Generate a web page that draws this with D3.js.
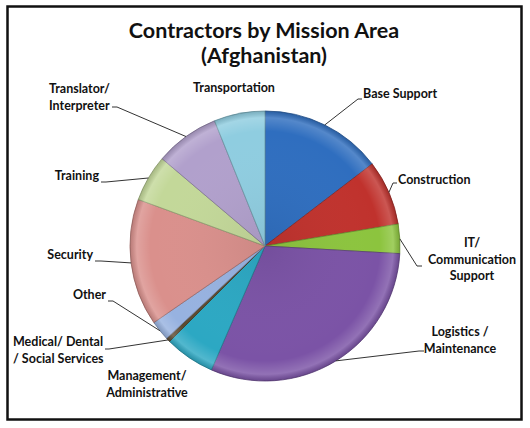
<!DOCTYPE html>
<html>
<head>
<meta charset="utf-8">
<script src="https://cdn.jsdelivr.net/npm/d3@7"></script>
<style>
  body { margin: 0; background: #fff; }
  svg text { font-family: Lato, "Open Sans", sans-serif; font-weight: bold; fill: #111; }
</style>
</head>
<body>
<svg id="chart" width="530" height="428"></svg>
<script>
// values (percent of contractors)
const categories = ["Base Support", "Construction", "IT/ Communication Support", "Logistics / Maintenance",
    "Management/ Administrative", "Medical/ Dental / Social Services", "Other", "Security",
    "Training", "Translator/ Interpreter", "Transportation"];
const shares = [14.6, 7.8, 3.5, 30.6, 6.0, 0.5, 2.4, 15.2, 5.6, 7.7, 6.1];
const colors = ["#2f6ebf", "#c0322d", "#8cc43e", "#7b53a6", "#2ca8c3", "#5c4a30", "#97b2e0",
    "#da908c", "#c3d899", "#b1a0cc", "#8fcde0"];

// label layout: lines, text position, anchor, elbow of leader (null = no leader)
const labelLines = [["Base Support"], ["Construction"], ["IT/", "Communication", "Support"],
    ["Logistics /", "Maintenance"], ["Management/", "Administrative"], ["Medical/ Dental", "/ Social Services"],
    ["Other"], ["Security"], ["Training"], ["Translator/", "Interpreter"], ["Transportation"]];
const labelPos = [
    { x: 363, y: 98, anchor: "start", elbow: [[358, 99], [362, 99]] },
    { x: 398, y: 184, anchor: "start", elbow: [[393, 183], [397, 183]] },
    { x: 472, y: 247, anchor: "middle", elbow: [[417, 266], [422, 266]] },
    { x: 460, y: 336, anchor: "middle", elbow: [[419, 351], [424, 351]] },
    { x: 147, y: 380, anchor: "middle", elbow: null },
    { x: 13, y: 346, anchor: "start", elbow: [[109, 349], [105, 349]] },
    { x: 106, y: 299, anchor: "end", elbow: [[113, 301], [108, 301]] },
    { x: 93, y: 259, anchor: "end", elbow: [[101, 261], [95, 261]] },
    { x: 99, y: 180, anchor: "end", elbow: [[106, 182], [101, 182]] },
    { x: 49, y: 93, anchor: "start", elbow: [[117, 107], [112, 107]] },
    { x: 234, y: 92, anchor: "middle", elbow: null }
];

const cx = 265, cy = 246, radius = 135;
const svg = d3.select("#chart");

svg.append("rect")
    .attr("x", 7.5).attr("y", 6.5)
    .attr("width", 514).attr("height", 413)
    .attr("fill", "#fff").attr("stroke", "#111").attr("stroke-width", 2.5);

svg.append("text").attr("x", 264).attr("y", 38)
    .attr("text-anchor", "middle").attr("font-size", 21.5)
    .text("Contractors by Mission Area");
svg.append("text").attr("x", 264).attr("y", 63)
    .attr("text-anchor", "middle").attr("font-size", 21.5)
    .text("(Afghanistan)");

const data = categories.map((c, i) => ({ name: c, value: shares[i], color: colors[i], lines: labelLines[i], pos: labelPos[i] }));

const pie = d3.pie().sort(null).value(d => d.value);
const arcs = pie(data);
const arc = d3.arc().innerRadius(0).outerRadius(radius);
const edge = d3.arc().innerRadius(radius).outerRadius(radius);

// soft bevel over the whole pie, like the office chart style
const defs = svg.append("defs");
const shade = defs.append("radialGradient").attr("id", "bevel")
    .attr("gradientUnits", "userSpaceOnUse")
    .attr("cx", 0).attr("cy", 0).attr("r", radius);
shade.append("stop").attr("offset", "0%").attr("stop-color", "#000").attr("stop-opacity", 0.06);
shade.append("stop").attr("offset", "85%").attr("stop-color", "#fff").attr("stop-opacity", 0.0);
shade.append("stop").attr("offset", "95%").attr("stop-color", "#fff").attr("stop-opacity", 0.18);
shade.append("stop").attr("offset", "100%").attr("stop-color", "#000").attr("stop-opacity", 0.15);

const g = svg.append("g").attr("transform", `translate(${cx},${cy})`);

g.selectAll("path.slice")
    .data(arcs)
    .enter()
    .append("path")
    .attr("class", "slice")
    .attr("d", arc)
    .attr("fill", d => d.data.color)
    .attr("stroke", d => d3.color(d.data.color).darker(0.9))
    .attr("stroke-width", 0.8);

g.selectAll("path.bevel")
    .data(arcs)
    .enter()
    .append("path")
    .attr("class", "bevel")
    .attr("d", arc)
    .attr("fill", "url(#bevel)");

// leader lines
const line = d3.line();
svg.selectAll("path.leader")
    .data(arcs.filter(d => d.data.pos.elbow))
    .enter()
    .append("path")
    .attr("class", "leader")
    .attr("d", d => {
        const p = edge.centroid(d);
        return line([[p[0] + cx, p[1] + cy], ...d.data.pos.elbow]);
    })
    .attr("fill", "none")
    .attr("stroke", "#333")
    .attr("stroke-width", 1);

// labels
const labels = svg.selectAll("text.label")
    .data(data)
    .enter()
    .append("text")
    .attr("class", "label")
    .attr("font-size", 12.5)
    .attr("text-anchor", d => d.pos.anchor);

labels.selectAll("tspan")
    .data(d => d.lines.map((l, i) => ({ l, i, pos: d.pos })))
    .enter()
    .append("tspan")
    .attr("x", d => d.pos.x)
    .attr("y", d => d.pos.y + d.i * 16.5)
    .text(d => d.l);
</script>
</body>
</html>
